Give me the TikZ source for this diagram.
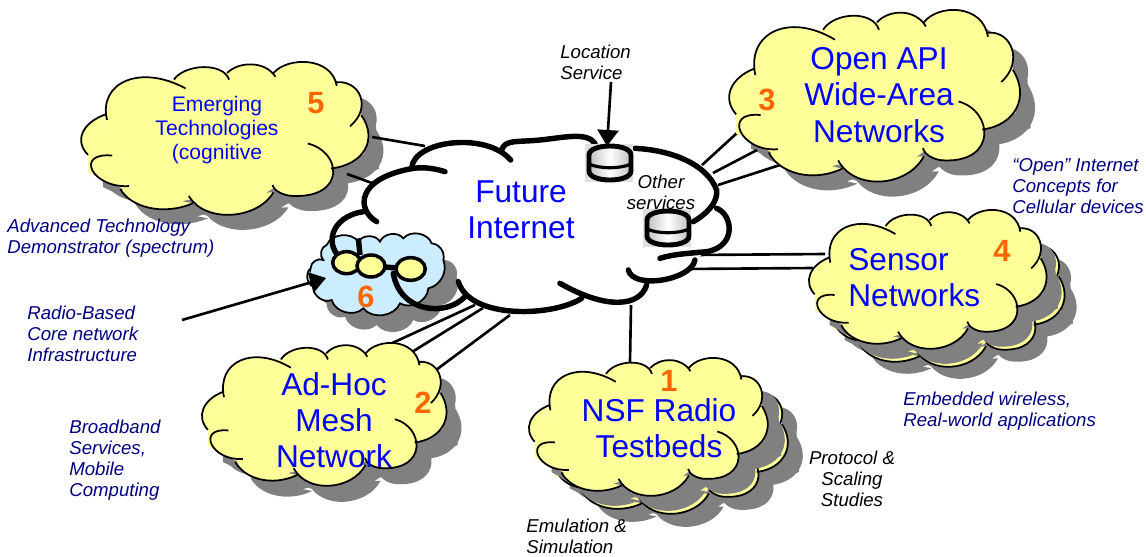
\documentclass[tikz,border=0pt]{standalone}
\usepackage{fontspec}
\setmainfont{Liberation Sans}
\usetikzlibrary{arrows.meta}
\definecolor{cloudyellow}{HTML}{FFFF99}
\definecolor{cloudblue}{HTML}{CCECFF}
\definecolor{shadowgray}{HTML}{808080}
\definecolor{numorange}{HTML}{FF6600}
\definecolor{notenavy}{HTML}{000080}
\def\linkwidth{1.5pt}
\def\netwidth{3.1pt}
\def\lobecore{(65,148) -- (120,50) -- (233,48) -- (305,15) -- (365,30) -- (435,8) -- (480,30) -- (565,2) -- (637,55) -- (695,100) -- (698,145) -- (705,250) -- (623,290) -- (600,350) -- (478,345) -- (375,415) -- (270,375) -- (190,395) -- (100,342) -- (20,300) -- (20,253) -- cycle}
\def\lobeset{
	(67,158) .. controls (45,55) and (150,5) .. (262,72)
	(233,48) .. controls (260,5) and (355,0) .. (370,48)
	(365,30) .. controls (395,-3) and (460,-3) .. (485,40)
	(480,30) .. controls (515,-15) and (625,-15) .. (637,65)
	(637,55) .. controls (695,50) and (725,125) .. (670,175)
	(698,145) .. controls (740,210) and (705,280) .. (623,290)
	(565,222) .. controls (650,245) and (660,370) .. (530,365) .. controls (505,365) and (480,350) .. (478,335)
	(480,355) .. controls (440,430) and (310,440) .. (270,365)
	(280,385) .. controls (205,420) and (125,395) .. (100,346)
	(122,338) .. controls (30,345) and (-15,245) .. (80,255)
	(20,253) .. controls (-15,215) and (5,165) .. (65,142)
}
\def\netcore{(335,205) -- (450,125) -- (632,150) -- (885,130) -- (1005,145) -- (1250,270) -- (1290,400) -- (1185,480) -- (1040,555) -- (940,615) -- (845,595) -- (640,640) -- (495,590) -- (340,610) -- (100,420) -- (190,335) -- cycle}
\def\netlobes{
	(335,205) .. controls (340,120) and (560,95) .. (632,180)
	(605,150) .. controls (615,118) and (650,127) .. (720,120) .. controls (790,113) and (860,95) .. (885,130)
	(1005,145) .. controls (1110,150) and (1220,190) .. (1250,270) .. controls (1255,310) and (1215,345) .. (1180,365)
	(1250,325) .. controls (1300,345) and (1310,440) .. (1220,455) .. controls (1170,460) and (1120,462) .. (1080,475)
	(1185,480) .. controls (1175,540) and (1000,570) .. (985,510)
	(1040,555) .. controls (1020,620) and (920,630) .. (780,550)
	(845,595) .. controls (760,650) and (510,660) .. (475,545)
	(495,590) .. controls (440,650) and (300,640) .. (280,520)
	(130,480) .. controls (70,440) and (90,350) .. (190,335)
	(230,365) .. controls (170,330) and (165,235) .. (340,205) .. controls (375,200) and (410,207) .. (435,215)
}
\def\bluebumps{(32,505) to[bend left=60] (70,480) to[bend left=60] (80,435) to[bend left=60] (175,425) to[bend left=60] (240,425) to[bend left=60] (310,415) to[bend left=60] (395,430) to[bend left=50] (430,480) to[bend left=50] (385,565) to[bend left=60] (300,610) to[bend left=60] (190,625) to[bend left=60] (95,600) to[bend left=60] (40,560) to[bend left=60] cycle}
\tikzset{
cloudbody/.pic={
	\path[pic actions, draw=none] \lobecore \lobeset;
	\path[pic actions, fill=none] \lobeset;
},
yellowcloud/.style={fill=cloudyellow, draw=black, line width=1pt},
greycloud/.style={fill=shadowgray, draw=none},
link/.style={line width=\linkwidth},
pointer/.style={line width=\linkwidth, -{Triangle[length=3.2mm,width=4.2mm]}},
title/.style={text=blue, align=center, font=\fontsize{18}{20.6}\selectfont},
midtitle/.style={text=blue, align=center, font=\fontsize{12}{13.8}\selectfont},
num/.style={text=numorange, font=\fontsize{17.5}{20}\selectfont\bfseries},
note/.style={align=left, anchor=west, inner sep=0pt, font=\fontsize{10.6}{12}\selectfont\itshape},
navynote/.style={note, text=notenavy},
dbstore/.pic={
	\fill[gray!25] (-25,-19) rectangle (23,19);
	\draw[line width=2.8pt, left color=gray!50, right color=gray!50, middle color=white] (-21,-8) .. controls (-21,-20) and (21,-20) .. (21,-8) -- (21,8) .. controls (21,20) and (-21,20) .. (-21,8) -- cycle;
	\draw[line width=1.8pt] (-21,1) .. controls (-10,6) and (10,6) .. (21,1);
},
}
\begin{document}
\begin{tikzpicture}[x=0.02cm, y=-0.02cm]
	\useasboundingbox (0,0) rectangle (1146,556);
	%
	\pic[greycloud, xscale=0.403, yscale=0.367] at (95,77) {cloudbody};
	\pic[greycloud, xscale=0.408, yscale=0.412] at (743,25) {cloudbody};
	\pic[greycloud, xscale=0.3333, yscale=0.3333] at (838,240) {cloudbody};
	\pic[yellowcloud, xscale=0.3333, yscale=0.3333] at (826,228) {cloudbody};
	\pic[greycloud, xscale=0.3333, yscale=0.3333] at (823,225) {cloudbody};
	\pic[greycloud, xscale=0.335, yscale=0.331] at (563,389) {cloudbody};
	\pic[yellowcloud, xscale=0.335, yscale=0.331] at (548,376) {cloudbody};
	\pic[greycloud, xscale=0.335, yscale=0.331] at (545,373) {cloudbody};
	\pic[greycloud, xscale=0.343, yscale=0.343] at (216,359) {cloudbody};
	%
	\coordinate (em1) at (372,137);
	\coordinate (em2) at (347,174);
	\coordinate (net1) at (425,146);
	\coordinate (net2) at (372,183);
	\coordinate (api1) at (737,133);
	\coordinate (api2) at (757,150);
	\coordinate (api3) at (780,165);
	\coordinate (net3) at (702,165);
	\coordinate (net4) at (713,173);
	\coordinate (net5) at (718,185);
	\coordinate (sen1) at (825,254);
	\coordinate (sen2) at (813,268);
	\coordinate (net6) at (693,255);
	\coordinate (net7) at (683,269);
	\coordinate (mesh1) at (388,345);
	\coordinate (mesh2) at (412,352);
	\coordinate (mesh3) at (436,370);
	\coordinate (net8) at (475,305);
	\coordinate (net9) at (483,308);
	\coordinate (net10) at (510,315);
	\coordinate (nsf1) at (630,362);
	\coordinate (net11) at (631,305);
	\draw[link] (em1) -- (net1);
	\draw[link] (em2) -- (net2);
	\draw[link] (api1) -- (net3);
	\draw[link] (api2) -- (net4);
	\draw[link] (api3) -- (net5);
	\draw[link] (sen1) -- (net6);
	\draw[link] (sen2) -- (net7);
	\draw[link] (mesh1) -- (net8);
	\draw[link] (mesh2) -- (net9);
	\draw[link] (mesh3) -- (net10);
	\draw[link] (nsf1) -- (net11);
	%
	\pic[yellowcloud, xscale=0.403, yscale=0.367] at (80,62) {cloudbody};
	\pic[yellowcloud, xscale=0.408, yscale=0.412] at (728,10) {cloudbody};
	\pic[yellowcloud, xscale=0.3333, yscale=0.3333] at (808,210) {cloudbody};
	\pic[yellowcloud, xscale=0.335, yscale=0.331] at (528,358) {cloudbody};
	\pic[yellowcloud, xscale=0.343, yscale=0.343] at (201,343) {cloudbody};
	%
	\begin{scope}[shift={(300,100)}, xscale=0.3333, yscale=0.3333]
		\fill[white] \netcore \netlobes;
		\fill[shadowgray, shift={(40,50)}] \bluebumps;
		\draw[fill=cloudblue, line width=1pt] \bluebumps;
		\draw[line width=\netwidth, line cap=round] \netlobes;
		\draw[line width=\netwidth] (175,415) -- (180,465);
		\draw[line width=\netwidth] (213,498) -- (332,507);
		\draw[fill=cloudyellow, line width=2pt] (140,488) ellipse[x radius=42, y radius=33];
		\draw[fill=cloudyellow, line width=2pt] (213,498) ellipse[x radius=42, y radius=33];
		\draw[fill=cloudyellow, line width=2pt] (332,507) ellipse[x radius=44, y radius=34];
	\end{scope}
	%
	\pic at (610,163) {dbstore};
	\pic at (668,228) {dbstore};
	\coordinate (loc) at (611,82);
	\coordinate (db1) at (607,146);
	\coordinate (radio) at (182,320);
	\coordinate (mesh6) at (326,278);
	\draw[pointer] (loc) -- (db1);
	\draw[pointer] (radio) -- (mesh6);
	%
	\node[title] (future) at (521,210) {Future\\Internet};
	\node[midtitle] (emerging) at (217,130) {Emerging\\Technologies\\(cognitive};
	\node[title] (openapi) at (879,95) {Open API\\Wide-Area\\Networks};
	\node[title, align=left, anchor=west, inner sep=0pt] (sensor) at (848,278) {Sensor\\Networks};
	\node[title] (nsf) at (659,428) {NSF Radio\\Testbeds};
	\node[title] (mesh) at (334,420) {Ad-Hoc\\Mesh\\Network};
	%
	\node[num] (n1) at (669,381) {1};
	\node[num] (n2) at (423,403) {2};
	\node[num] (n3) at (767,100) {3};
	\node[num] (n4) at (1002,251) {4};
	\node[num] (n5) at (316,103) {5};
	\node[num] (n6) at (366,297) {6};
	%
	\node[note] (location) at (560,62) {Location\\Service};
	\node[note, align=center, anchor=center] (other) at (661,192) {Other\\services};
	\node[note, align=center, anchor=center] (protocol) at (852,479) {Protocol \&\\Scaling\\Studies};
	\node[note] (emulation) at (526,536) {Emulation \&\\Simulation};
	\node[navynote] (cellular) at (1012,186) {“Open” Internet\\Concepts for\\Cellular devices};
	\node[navynote] (embedded) at (903,411) {Embedded wireless,\\Real-world applications};
	\node[navynote] (broadband) at (69,460) {Broadband\\Services,\\Mobile\\Computing};
	\node[navynote] (radionote) at (27,334) {Radio-Based\\Core network\\Infrastructure};
	\node[navynote] (advanced) at (7,238) {Advanced Technology\\Demonstrator (spectrum)};
\end{tikzpicture}
\end{document}
